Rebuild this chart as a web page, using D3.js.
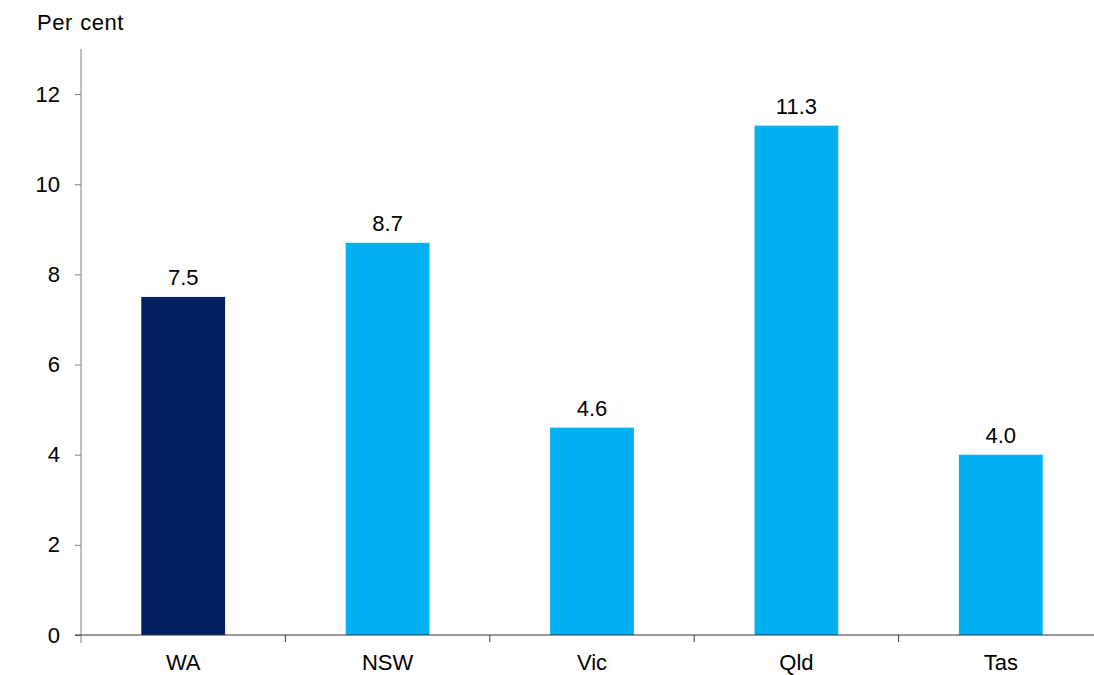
<!DOCTYPE html>
<html><head><meta charset="utf-8">
<script src="https://cdn.jsdelivr.net/npm/d3@7"></script>
<style>body{margin:0;background:#fff}text{font-family:"Liberation Sans",Arial,sans-serif}</style>
</head><body>
<svg id="c" width="1094" height="675"></svg>
<script>
const categories = ["WA","NSW","Vic","Qld","Tas"];
const values = [7.5, 8.7, 4.6, 11.3, 4.0];
const colors = ["#002060","#00B0F0","#00B0F0","#00B0F0","#00B0F0"];
const yTicks = [0,2,4,6,8,10,12];
const yLabel = "Per cent";

const svg = d3.select("#c");
const x = d3.scaleBand().domain(categories).range([81,1103]).paddingInner(0.59).paddingOuter(0.295);
const y = d3.scaleLinear().domain([0,13]).range([635,49]);
const fs = 22;

svg.selectAll("rect.bar").data(values).enter().append("rect")
  .attr("x",(d,i)=>x(categories[i])).attr("width",x.bandwidth())
  .attr("y",d=>y(d)).attr("height",d=>y(0)-y(d)).attr("fill",(d,i)=>colors[i]);

svg.selectAll("text.val").data(values).enter().append("text")
  .attr("x",(d,i)=>x(categories[i])+x.bandwidth()/2).attr("y",d=>y(d)-12)
  .attr("text-anchor","middle").attr("font-size",fs).attr("fill","#000")
  .text(d=>d.toFixed(1));

// y axis
const ya = svg.append("g").attr("transform","translate(81,0)")
  .call(d3.axisLeft(y).tickValues(yTicks).tickSize(6).tickSizeOuter(0).tickPadding(15));
ya.select(".domain").attr("stroke","#808080");
ya.selectAll(".tick line").attr("stroke","#808080");
ya.selectAll(".tick text").attr("font-size",fs).attr("fill","#000").attr("font-family","Liberation Sans, Arial, sans-serif");
ya.select(".domain").attr("d","M0,49V643");

// x axis
const xa = svg.append("g").attr("transform","translate(0,635)")
  .call(d3.axisBottom(x).tickSize(0).tickPadding(19));
xa.select(".domain").remove();
xa.selectAll(".tick text").attr("font-size",fs).attr("fill","#000").attr("font-family","Liberation Sans, Arial, sans-serif");
svg.append("line").attr("x1",75).attr("x2",1094).attr("y1",635).attr("y2",635).attr("stroke","#333").attr("stroke-width",1.2);
const step = x.step();
svg.selectAll("line.sep").data(categories.slice(1)).enter().append("line")
  .attr("x1",d=>x(d)-x.paddingInner()*step/2).attr("x2",d=>x(d)-x.paddingInner()*step/2)
  .attr("y1",635).attr("y2",642).attr("stroke","#333");

svg.append("text").attr("x",37).attr("y",30).attr("font-size",fs).attr("word-spacing",1).attr("letter-spacing",0.5).attr("fill","#000").text(yLabel);
</script>
</body></html>
